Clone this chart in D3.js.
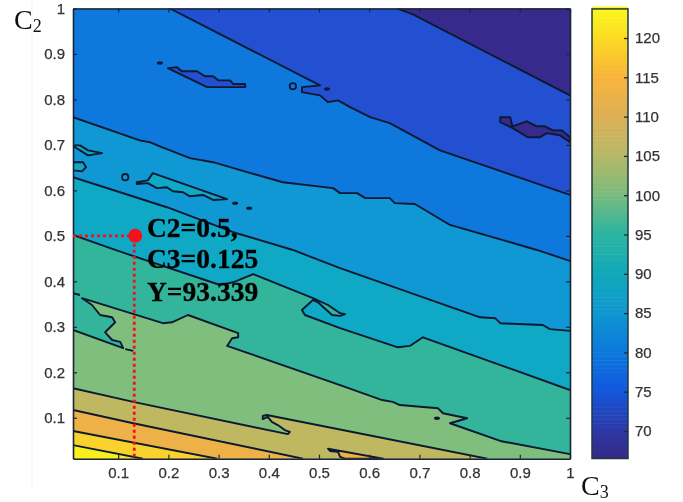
<!DOCTYPE html>
<html>
<head>
<meta charset="utf-8">
<script src="https://cdn.jsdelivr.net/npm/d3@7"></script>
<style>
  html, body { margin: 0; padding: 0; background: #fff; }
  svg { display: block; filter: blur(0.4px); }
  .tick text { font-family: "Liberation Sans", Arial, sans-serif; font-size: 15px; fill: #333; stroke: #333; stroke-width: 0.25px; }
  .serif { font-family: "Liberation Serif", "Times New Roman", serif; }
</style>
</head>
<body>
<div id="chart"></div>
<script>
const xTicks = [0.1, 0.2, 0.3, 0.4, 0.5, 0.6, 0.7, 0.8, 0.9, 1];
const yTicks = [0.1, 0.2, 0.3, 0.4, 0.5, 0.6, 0.7, 0.8, 0.9, 1];
const barTicks = [70, 75, 80, 85, 90, 95, 100, 105, 110, 115, 120];

// contour lines, [C3, C2]
const line70 = [[.657,1],[.687,.987],[1,.809]];
const line75 = [[.203,1],[.502,.831],[.466,.827],[.466,.816],[.502,.809],[.518,.794],[.538,.798],[.562,.783],[.602,.761],[.641,.748],[.741,.688],[1,.590]];
const line80 = [[.01,.761],[.143,.710],[.163,.706],[.183,.697],[.243,.671],[.289,.662],[.357,.640],[.428,.618],[.528,.605],[.542,.594],[.576,.594],[.592,.583],[.641,.583],[.651,.572],[.691,.570],[.761,.524],[.934,.469],[1,.445]];
const line85 = [[.01,.629],[.197,.563],[.329,.508],[.448,.469],[.542,.429],[.821,.321],[.851,.319],[.861,.308],[.946,.304],[.960,.295],[1,.291]];
const line90 = [[.01,.502],[.094,.469],[.303,.392],[.329,.398],[.369,.416],[.488,.363],[.518,.348],[.542,.330],[.552,.328],[.542,.324],[.526,.326],[.498,.354],[.488,.359],[.466,.337],[.472,.326],[.542,.297],[.657,.255],[.681,.258],[.707,.277],[1,.161]];
const line95 = [[.01,.293],[.110,.253],[.104,.267],[.088,.271],[.074,.288],[.094,.310],[.088,.321],[.064,.326],[.048,.348],[.028,.363],[.189,.308],[.207,.310],[.239,.326],[.339,.286],[.339,.277],[.327,.275],[.317,.258],[.542,.172],[.626,.139],[.647,.135],[.661,.128],[.737,.121],[.747,.110],[.795,.099],[.761,.088],[.861,.049],[1,.020]];
const line100 = [[.01,.165],[.130,.135],[.438,.064],[.442,.069],[.432,.073],[.418,.084],[.406,.091],[.398,.102],[.388,.097],[.388,.104],[.396,.106],[.835,.01]];
const line105 = [[.01,.117],[.130,.088],[.468,.01]];
const line110 = [[.01,.071],[.297,.01]];
const line115 = [[.01,.040],[.149,.01]];

const topCorners = [[1,1],[.01,1]];
const bottomCorners = [[1,.01],[.01,.01]];

// islands, level is the band colour they take
const island75 = [[.199,.869],[.217,.871],[.227,.862],[.257,.862],[.273,.851],[.289,.851],[.299,.842],[.323,.842],[.329,.834],[.353,.834],[.353,.827],[.277,.827]];
const island70 = [[.861,.761],[.881,.761],[.885,.741],[.914,.752],[.934,.741],[.950,.741],[.966,.732],[.984,.732],[1,.717],[1,.706],[.980,.721],[.954,.726],[.940,.717],[.916,.717],[.886,.737],[.861,.750]];
const island90a = [[.014,.699],[.024,.699],[.040,.688],[.068,.682],[.040,.677],[.014,.695]];
const island90b = [[.01,.662],[.030,.662],[.036,.651],[.028,.642],[.01,.644]];
const island90c = [[.137,.618],[.159,.622],[.169,.638],[.317,.581],[.289,.579],[.269,.590],[.243,.587],[.229,.596],[.209,.598],[.197,.607],[.177,.605],[.159,.616],[.137,.614]];
const island110 = [[.518,.032],[.628,.01],[.552,.01],[.542,.014],[.538,.025],[.522,.027]];

const stubs = [[[.01,.374],[.024,.370]], [[.114,.251],[.130,.247]]];
const spots = [[.183,.880],[.516,.823],[.333,.572],[.361,.561],[.735,.099]];
const rings = [[.448,.829],[.114,.629]];

const levels = [70, 75, 80, 85, 90, 95, 100, 105, 110, 115, 120];
const levelColors = ['#382a8c', '#2350d0', '#0f78dc', '#1098d4', '#0fa9c6', '#33b59c', '#7fbe7c', '#bfb860', '#eeb148', '#fbd22c', '#f8f01c'];

const barStops = [66.5, 70, 75, 80, 85, 90, 95, 100, 105, 110, 115, 120, 123.7];
const barColors = ['#352a87', '#2d38a8', '#1358de', '#0c7adb', '#0f98d0', '#12aab8', '#2cb5a0', '#7bbb7c', '#b8b866', '#dfb055', '#f9b43a', '#fbdc22', '#fcf81c'];

const pointC3 = 0.134, pointC2 = 0.5;
const pointText = ['C2=0.5,', 'C3=0.125', 'Y=93.339'];

const width = 683;
const height = 502;

const xScale = d3.scaleLinear().domain([0.01, 1]).range([73, 570]);
const yScale = d3.scaleLinear().domain([0.01, 1]).range([458.7, 8.5]);
const barScale = d3.scaleLinear().domain([70, 120]).range([431, 38]);
const levelColor = d3.scaleOrdinal(levels, levelColors);
const barColor = d3.scaleLinear().domain(barStops).range(barColors);

const svg = d3.select('#chart').append('svg')
  .attr('width', width)
  .attr('height', height);

svg.append('line')
  .attr('x1', 32).attr('x2', 32).attr('y1', 0).attr('y2', 487)
  .attr('stroke', '#f3f3f3');

svg.append('clipPath').attr('id', 'plot')
  .append('rect')
  .attr('x', xScale(0.01)).attr('y', yScale(1))
  .attr('width', xScale(1) - xScale(0.01))
  .attr('height', yScale(0.01) - yScale(1));

const plot = svg.append('g').attr('clip-path', 'url(#plot)');
const path = d3.line().x(d => xScale(d[0])).y(d => yScale(d[1]));

plot.append('rect')
  .attr('x', xScale(0.01)).attr('y', yScale(1))
  .attr('width', xScale(1) - xScale(0.01))
  .attr('height', yScale(0.01) - yScale(1))
  .attr('fill', levelColor(90));

// painted from the mid band outwards, each one covers the band before it
const bands = [
  {pts: line85.concat(topCorners), level: 85},
  {pts: line80.concat(topCorners), level: 80},
  {pts: line75.concat([[1,1]]), level: 75},
  {pts: line70.concat([[1,1]]), level: 70},
  {pts: line90.concat(bottomCorners), level: 95},
  {pts: line95.concat(bottomCorners), level: 100},
  {pts: line100.concat([[.01,.01]]), level: 105},
  {pts: line105.concat([[.01,.01]]), level: 110},
  {pts: line110.concat([[.01,.01]]), level: 115},
  {pts: line115.concat([[.01,.01]]), level: 120}
];

plot.selectAll('path.band').data(bands)
  .enter().append('path')
  .attr('class', 'band')
  .attr('d', d => path(d.pts) + 'Z')
  .attr('fill', d => levelColor(d.level));

const islands = [
  {pts: island75, level: 75},
  {pts: island70, level: 70},
  {pts: island90a, level: 90},
  {pts: island90b, level: 90},
  {pts: island90c, level: 90},
  {pts: island110, level: 110}
];

const lineColor = '#0b1a30';

plot.selectAll('path.island').data(islands)
  .enter().append('path')
  .attr('class', 'island')
  .attr('d', d => path(d.pts) + 'Z')
  .attr('fill', d => levelColor(d.level))
  .attr('stroke', lineColor)
  .attr('stroke-width', 1.9)
  .attr('stroke-linejoin', 'round');

const contourLines = [line70, line75, line80, line85, line90, line95, line100, line105, line110, line115].concat(stubs);

plot.selectAll('path.contour').data(contourLines)
  .enter().append('path')
  .attr('class', 'contour')
  .attr('d', path)
  .attr('fill', 'none')
  .attr('stroke', lineColor)
  .attr('stroke-width', 1.9)
  .attr('stroke-linejoin', 'round');

plot.selectAll('ellipse').data(spots)
  .enter().append('ellipse')
  .attr('cx', d => xScale(d[0]))
  .attr('cy', d => yScale(d[1]))
  .attr('rx', 3)
  .attr('ry', 1.7)
  .attr('fill', lineColor);

plot.selectAll('circle').data(rings)
  .enter().append('circle')
  .attr('cx', d => xScale(d[0]))
  .attr('cy', d => yScale(d[1]))
  .attr('r', 3.2)
  .attr('fill', 'none')
  .attr('stroke', lineColor)
  .attr('stroke-width', 1.8);

// axes, ticks point inward on all four sides
const styleAxis = g => {
  g.select('.domain').attr('stroke', '#1c2433').attr('stroke-width', 1.6);
  g.selectAll('.tick line').attr('stroke', '#1c2433').attr('stroke-width', 1.2);
};

svg.append('g').attr('transform', `translate(0,${yScale(0.01)})`)
  .call(d3.axisBottom(xScale).tickValues(xTicks).tickFormat(d => d).tickSizeInner(-4).tickSizeOuter(0).tickPadding(9))
  .call(styleAxis);
svg.append('g').attr('transform', `translate(${xScale(0.01)},0)`)
  .call(d3.axisLeft(yScale).tickValues(yTicks).tickFormat(d => d).tickSizeInner(-4).tickSizeOuter(0).tickPadding(8))
  .call(styleAxis);
svg.append('g').attr('transform', `translate(0,${yScale(1)})`)
  .call(d3.axisTop(xScale).tickValues(xTicks).tickFormat('').tickSizeInner(-4).tickSizeOuter(0))
  .call(styleAxis);
svg.append('g').attr('transform', `translate(${xScale(1)},0)`)
  .call(d3.axisRight(yScale).tickValues(yTicks).tickFormat('').tickSizeInner(-4).tickSizeOuter(0))
  .call(styleAxis);

// colour bar
const barLeft = 592, barRight = 628;
const barValues = d3.range(66.5, 123.7, 0.5);
svg.selectAll('rect.bar').data(barValues)
  .enter().append('rect')
  .attr('class', 'bar')
  .attr('x', barLeft)
  .attr('width', barRight - barLeft)
  .attr('y', d => barScale(d + 0.5))
  .attr('height', d => barScale(d) - barScale(d + 0.5) + 0.5)
  .attr('fill', d => barColor(d));

svg.append('rect')
  .attr('x', barLeft).attr('y', barScale(123.7))
  .attr('width', barRight - barLeft)
  .attr('height', barScale(66.5) - barScale(123.7))
  .attr('fill', 'none')
  .attr('stroke', '#1c3b40')
  .attr('stroke-width', 1.5);

svg.append('g').attr('transform', `translate(${barRight},0)`)
  .call(d3.axisRight(barScale).tickValues(barTicks).tickSizeInner(-4).tickSizeOuter(0).tickPadding(7))
  .call(g => g.select('.domain').remove())
  .call(g => g.selectAll('.tick line').attr('stroke', '#1c2b30').attr('stroke-width', 1.3));

// marked point
const px = xScale(pointC3), py = yScale(pointC2);
svg.append('line')
  .attr('x1', xScale(0.01)).attr('x2', px - 5).attr('y1', py).attr('y2', py)
  .attr('stroke', '#f5101c').attr('stroke-width', 2.8).attr('stroke-dasharray', '3 3');
svg.append('line')
  .attr('x1', px - 1).attr('x2', px - 1).attr('y1', py + 8).attr('y2', yScale(0.01))
  .attr('stroke', '#f5101c').attr('stroke-width', 2.8).attr('stroke-dasharray', '3 3');
svg.append('circle')
  .attr('cx', px).attr('cy', py).attr('r', 7)
  .attr('fill', '#f5101c');

svg.selectAll('text.note').data(pointText)
  .enter().append('text')
  .attr('class', 'note serif')
  .attr('x', 147)
  .attr('y', (d, i) => [237, 268, 301][i])
  .attr('font-size', 27.5)
  .attr('font-weight', 'bold')
  .attr('fill', '#000')
  .attr('stroke', '#000')
  .attr('stroke-width', 0.3)
  .text(d => d);

// axis names
const addName = (x, y, sub) => {
  const t = svg.append('text').attr('class', 'serif').attr('x', x).attr('y', y)
    .attr('font-size', 28).attr('fill', '#111').text('C');
  t.append('tspan').attr('font-size', 18).attr('dy', 3).text(sub);
};
addName(14, 29, '2');
addName(581, 495, '3');
</script>
</body>
</html>
